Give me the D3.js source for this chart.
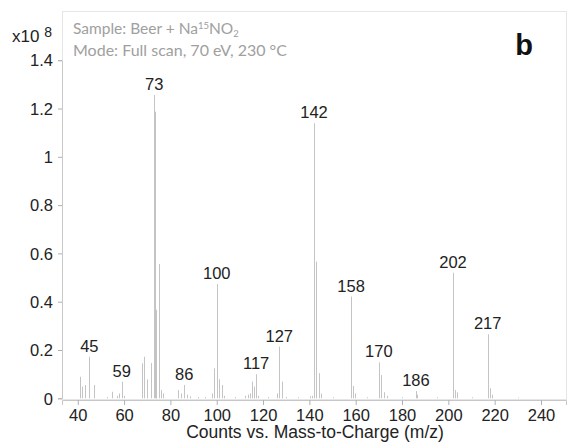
<!DOCTYPE html>
<html><head><meta charset="utf-8">
<script src="https://cdn.jsdelivr.net/npm/d3@7"></script>
<style>
body{margin:0;background:#fff;}
svg{display:block;}
</style></head>
<body><svg id="c" width="568" height="443"></svg>
<script>
// m/z values of spectrum lines
const mz = [41,42,43,45,47,52.5,55,56.8,57.8,59,60,67.6,68.6,69.8,71.7,73,73.3,73.6,73.9,75,76,77,83.4,84.5,85.9,87,88.5,92,95,97.8,98.8,100,101,102.2,103.3,108,112.2,113.6,114.4,115.1,116.1,117,118,122,125.9,126.9,128.1,129.9,135,140.3,141,142,142.9,144.3,145,150,158,159,159.7,165,170.1,170.8,172.2,173.5,180,186,186.6,195,201.9,203,203.6,210,217.3,218,218.7,230];
// intensities (x10^8 counts)
const intensity = [0.089,0.048,0.055,0.172,0.055,0.005,0.027,0.01,0.02,0.069,0.01,0.145,0.172,0.078,0.146,1.256,1.187,0.366,0.366,0.556,0.034,0.02,0.034,0.02,0.055,0.015,0.008,0.005,0.005,0.02,0.124,0.473,0.079,0.055,0.01,0.005,0.01,0.015,0.02,0.069,0.048,0.10,0.01,0.005,0.02,0.214,0.069,0.005,0.004,0.008,0.01,1.139,0.566,0.104,0.02,0.004,0.421,0.051,0.02,0.004,0.149,0.096,0.025,0.01,0.004,0.030,0.015,0.004,0.52,0.034,0.025,0.004,0.265,0.041,0.015,0.003];
// labelled peaks
const labelMz = [45,59,73,86,100,117,127,142,158,170,186,202,217];
const labelVal = [0.172,0.069,1.256,0.055,0.473,0.10,0.214,1.139,0.421,0.149,0.030,0.52,0.265];
const xTicks = [40,60,80,100,120,140,160,180,200,220,240];
const yTicks = [0,0.2,0.4,0.6,0.8,1,1.2,1.4];

const svg = d3.select('#c');
const x = d3.scaleLinear().domain([33.2,250.8]).range([62,566]);
const y = d3.scaleLinear().domain([0,1.4]).range([398.3,60.2]);
const font = 'Liberation Sans, Arial, sans-serif';

// frame
svg.append('rect').attr('x',62.5).attr('y',11.5).attr('width',504).attr('height',388)
  .attr('fill','none').attr('stroke','#e6e6e6');

// peaks
svg.append('g').selectAll('line').data(mz.map((m,i)=>({m,v:intensity[i]}))).join('line')
  .attr('x1',d=>Math.round(x(d.m))+0.5).attr('x2',d=>Math.round(x(d.m))+0.5)
  .attr('y1',y(0)).attr('y2',d=>y(d.v))
  .attr('stroke','#c4c4c4').attr('stroke-width',1);

// axes
const xa = svg.append('g').attr('transform','translate(0,400)')
  .call(d3.axisBottom(x).tickValues(xTicks).tickSize(5).tickPadding(4).tickFormat(d3.format('d')));
const ya = svg.append('g').attr('transform','translate(62,0)')
  .call(d3.axisLeft(y).tickValues(yTicks).tickSize(4).tickPadding(5).tickFormat(d=>String(+d.toFixed(1))));
[xa,ya].forEach(a=>{
  a.select('.domain').attr('stroke','#c8c8c8');
  a.selectAll('.tick line').attr('stroke','#b0b0b0');
  a.selectAll('.tick text').attr('fill','#222').style('font-family',font).style('font-size','16.5px');
});
ya.selectAll('.tick text').attr('dy','0.35em');

// peak labels
svg.append('g').selectAll('text').data(labelMz.map((m,i)=>({m,v:labelVal[i]}))).join('text')
  .attr('x',d=>x(d.m)).attr('y',d=>y(d.v)-5).attr('text-anchor','middle')
  .attr('fill','#222').style('font-family',font).style('font-size','16.5px')
  .text(d=>d.m);

// y multiplier
const mult = svg.append('text').attr('x',12).attr('y',42).attr('fill','#222').style('font-family',font);
mult.append('tspan').style('font-size','17px').text('x10 ');
mult.append('tspan').attr('dy',-5).style('font-size','14px').text('8');

// annotation
const ann = svg.append('g').style('font-family','Lato, Open Sans, sans-serif').attr('fill','#a0a0a0');
const t1 = ann.append('text').attr('x',73).attr('y',34).style('font-size','15.5px');
t1.append('tspan').text('Sample: Beer + Na');
t1.append('tspan').attr('dy',-5).style('font-size','9.5px').text('15');
t1.append('tspan').attr('dy',5).text('NO');
t1.append('tspan').attr('dy',3).style('font-size','9.5px').text('2');
ann.append('text').attr('x',73).attr('y',55.5).style('font-size','16px').text('Mode: Full scan, 70 eV, 230 °C');

// panel letter
svg.append('text').attr('x',524).attr('y',55).attr('text-anchor','middle')
  .style('font-family',font).style('font-weight','bold').style('font-size','29px').attr('fill','#111').text('b');

// x title
svg.append('text').attr('x',315).attr('y',438).attr('text-anchor','middle')
  .style('font-family',font).style('font-size','17.5px').attr('fill','#222')
  .text('Counts vs. Mass-to-Charge (m/z)');
</script></body></html>
